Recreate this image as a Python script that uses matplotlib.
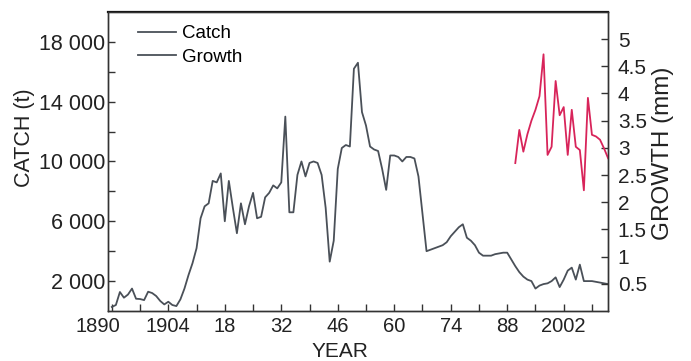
import matplotlib
matplotlib.use("Agg")
import matplotlib.pyplot as plt
import matplotlib.transforms as mtransforms

plt.rcParams['font.family'] = ['Liberation Sans', 'DejaVu Sans']

catch_years = list(range(1890, 2014))
catch_values = [
    270, 400, 1270, 890, 1100, 1500, 820, 800, 730, 1290,      # 1890-1899
    1200, 1000, 670, 440, 620, 400, 330, 780, 1500, 2400,      # 1900-1909
    3200, 4200, 6200, 7000, 7200, 8700, 8600, 9200, 6000, 8700,  # 1910-1919
    6900, 5200, 7200, 5800, 7000, 7900, 6200, 6300, 7600, 7900,  # 1920-1929
    8400, 8200, 8600, 13000, 6600, 6600, 9100, 10000, 9000, 9900,  # 1930-1939
    10000, 9900, 9100, 6900, 3300, 4700, 9500, 10900, 11100, 11000,  # 1940-1949
    16200, 16600, 13300, 12400, 11000, 10800, 10700, 9500, 8100, 10400,  # 1950-1959
    10400, 10300, 10000, 10300, 10300, 10200, 9000, 6500, 4000, 4100,  # 1960-1969
    4200, 4300, 4400, 4600, 5000, 5300, 5600, 5800, 4900, 4700,  # 1970-1979
    4400, 3900, 3700, 3700, 3700, 3800, 3850, 3900, 3900, 3450,  # 1980-1989
    3000, 2600, 2300, 2100, 2000, 1500, 1700, 1800, 1850, 2000,  # 1990-1999
    2250, 1600, 2100, 2700, 2900, 2100, 3100, 2000, 2000, 2000,  # 2000-2009
    1950, 1900, 1850, 1800,                                      # 2010-2013
]

growth_years = list(range(1990, 2014))
growth_values = [
    2.72, 3.33, 2.93, 3.25, 3.50, 3.70, 3.95, 4.72, 2.87, 3.02,
    4.23, 3.60, 3.75, 2.87, 3.70, 3.02, 2.96, 2.22, 3.92, 3.24,
    3.21, 3.15, 2.99, 2.81,
]

x_ticks_major = [1890, 1904, 1918, 1932, 1946, 1960, 1974, 1988, 2002]
x_tick_labels = ["1890", "1904", "18", "32", "46", "60", "74", "88", "2002"]
x_ticks_minor = [1897, 1911, 1925, 1939, 1953, 1967, 1981, 1995, 2009]
left_ticks = [2000, 6000, 10000, 14000, 18000]
left_tick_labels = ["2 000", "6 000", "10 000", "14 000", "18 000"]
left_minor = [4000, 8000, 12000, 16000]
right_ticks = [0.5, 1, 1.5, 2, 2.5, 3, 3.5, 4, 4.5, 5]
right_tick_labels = ["0.5", "1", "1.5", "2", "2.5", "3", "3.5", "4", "4.5", "5"]

gray = "#4a5058"
red = "#d8245a"
txt = "#222222"

fig = plt.figure(figsize=(6.91, 3.61), dpi=100)
ax = fig.add_axes([0.156, 0.1385, 0.724, 0.8285])
ax2 = ax.twinx()

ax.plot(catch_years, catch_values, color=gray, lw=1.3, label="Catch")
ax2.plot(growth_years, growth_values, color=red, lw=1.3, label="Growth")

ax.set_xlim(1889, 2013)
ax.set_ylim(0, 20000)
ax2.set_ylim(0, 5.5)

ax.set_xticks(x_ticks_major)
ax.set_xticklabels(x_tick_labels)
ax.set_xticks(x_ticks_minor, minor=True)
ax.set_yticks(left_ticks)
ax.set_yticklabels(left_tick_labels)
ax.set_yticks(left_minor, minor=True)
ax2.set_yticks(right_ticks)
ax2.set_yticklabels(right_tick_labels)

ax.tick_params(axis='both', which='both', direction='in', length=5, width=1.0,
               colors='#333333', labelcolor=txt)
ax.tick_params(axis='x', which='major', labelsize=14.5, pad=4)
ax.tick_params(axis='y', which='major', labelsize=15.5, pad=2)
ax2.tick_params(axis='y', which='both', direction='in', length=5, width=1.0,
                colors='#333333', labelcolor=txt, labelsize=15, pad=7)

# first year label sits left of its tick in the reference
first_lbl = ax.get_xticklabels()[0]
first_lbl.set_transform(first_lbl.get_transform() +
                        mtransforms.ScaledTranslation(-14 / 100, 0, fig.dpi_scale_trans))

for a in (ax, ax2):
    for s in a.spines.values():
        s.set_color('#333333')
        s.set_linewidth(1.0)
ax.spines['top'].set_linewidth(1.6)
ax.spines['top'].set_color('#111111')

ax.set_ylabel("CATCH (t)", fontsize=15.5, color=txt)
ax.yaxis.set_label_coords(-0.146, 0.58)
ax2.set_ylabel("GROWTH (mm)", fontsize=17.5, color=txt, rotation=90)
ax2.yaxis.set_label_coords(1.088, 0.528)
ax.set_xlabel("YEAR", fontsize=15, color=txt)
ax.xaxis.set_label_coords(0.465, -0.102)

leg_handles = [plt.Line2D([], [], color=gray, lw=1.3),
               plt.Line2D([], [], color=gray, lw=1.3)]
ax.legend(leg_handles, ["Catch", "Growth"], loc='upper left', frameon=False,
          fontsize=13.5, handlelength=2.0, handletextpad=0.35, labelspacing=0.35,
          borderaxespad=0.3, bbox_to_anchor=(0.035, 1.0))

fig.savefig("out.png", dpi=100)
